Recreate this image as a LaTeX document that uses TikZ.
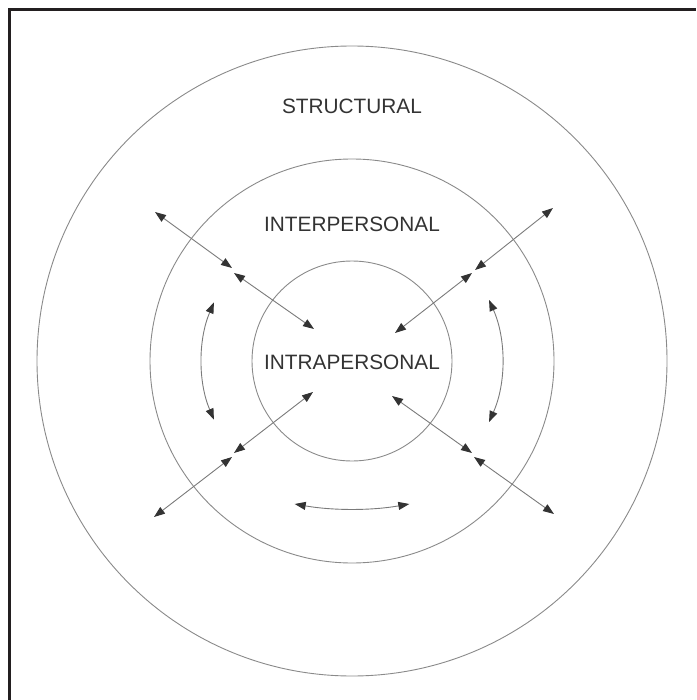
\documentclass[tikz,border=0pt]{standalone}
\usepackage{fontspec}
\setmainfont{Liberation Sans}
\usetikzlibrary{arrows.meta}
\definecolor{ringgray}{HTML}{8A8A8A}
\definecolor{linegray}{HTML}{7A7A7A}
\definecolor{tipdark}{HTML}{333333}
\definecolor{framecol}{HTML}{231F20}
\tikzset{
  ring/.style={draw=ringgray, line width=0.9pt},
  label/.style={text=tipdark, font=\fontsize{20.8}{25}\selectfont, inner sep=0pt},
  dbl/.style={draw=linegray, line width=0.9pt,
    {Triangle[length=11pt,width=8pt,fill=tipdark,color=tipdark]}-{Triangle[length=11pt,width=8pt,fill=tipdark,color=tipdark]}},
  frameline/.style={draw=framecol, line width=3pt}
}
\begin{document}
\begin{tikzpicture}[x=1pt,y=-1pt]
\useasboundingbox (0,0) rectangle (696,700);
% frame (top and left edges only visible)
\draw[frameline] (9.5,700) -- (9.5,9.5) -- (696,9.5);
% circles
\coordinate (c) at (352,361);
\draw[ring] (c) circle[radius=315];
\draw[ring] (c) circle[radius=202];
\draw[ring] (c) circle[radius=100];
% labels
\node[label] (structural) at (352,106) {STRUCTURAL};
\node[label] (interpersonal) at (352,224) {INTERPERSONAL};
\node[label] (intrapersonal) at (352,362) {INTRAPERSONAL};
% diagonal arrow end points
\coordinate (ulA) at (155,212); \coordinate (ulB) at (232,268);
\coordinate (ulC) at (234,273); \coordinate (ulD) at (314,329);
\coordinate (urA) at (553,208); \coordinate (urB) at (475,270);
\coordinate (urC) at (472,273); \coordinate (urD) at (395,333);
\coordinate (llA) at (313,392); \coordinate (llB) at (234,453);
\coordinate (llC) at (232,457); \coordinate (llD) at (154,517);
\coordinate (lrA) at (392,396); \coordinate (lrB) at (472,453);
\coordinate (lrC) at (474,457); \coordinate (lrD) at (554,514);
\draw[dbl] (ulA) -- (ulB);
\draw[dbl] (ulC) -- (ulD);
\draw[dbl] (urA) -- (urB);
\draw[dbl] (urC) -- (urD);
\draw[dbl] (llA) -- (llB);
\draw[dbl] (llC) -- (llD);
\draw[dbl] (lrA) -- (lrB);
\draw[dbl] (lrC) -- (lrD);
% curved arrows (y axis points down)
\coordinate (lfS) at ([shift={(203:150)}]c);
\coordinate (rtS) at ([shift={(-24:150)}]c);
\draw[dbl] (lfS) arc[start angle=203, end angle=157, radius=150];
\draw[dbl] (rtS) arc[start angle=-24, end angle=24, radius=150];
\coordinate (bc) at (352,179);
\coordinate (btS) at ([shift={(100:330)}]bc);
\draw[dbl] (btS) arc[start angle=100, end angle=80, radius=330];
\end{tikzpicture}
\end{document}
